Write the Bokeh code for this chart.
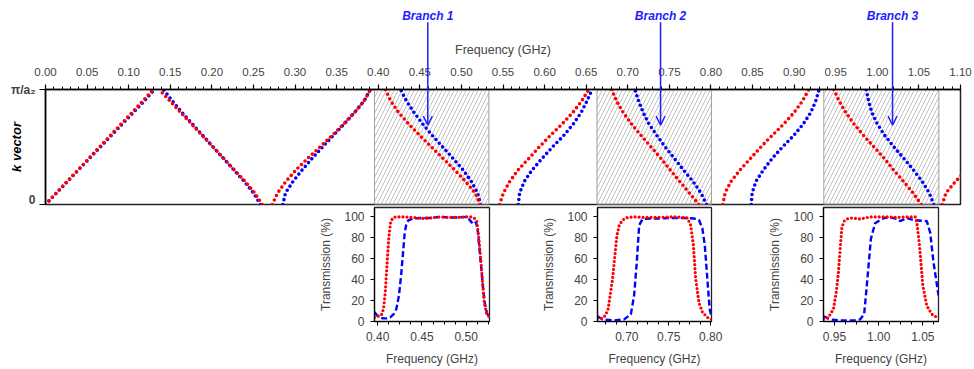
from bokeh.plotting import figure
from bokeh.models import (Range1d, SingleIntervalTicker, FixedTicker, NumeralTickFormatter,
                          Label, Arrow, OpenHead, Spacer)
from bokeh.layouts import column, row
from bokeh.embed import file_html
from bokeh.resources import INLINE

# ---------------- data ----------------
k_grid = [0.0, 0.1, 0.2, 0.3, 0.4, 0.5, 0.6, 0.7, 0.8, 0.9, 1.0]

band1_red = [0.0, 0.013, 0.026, 0.039, 0.052, 0.065, 0.078, 0.091, 0.104, 0.117, 0.1295]
band1_blue = [0.0, 0.0132, 0.0264, 0.0396, 0.0528, 0.066, 0.0792, 0.0924, 0.1056, 0.1188, 0.131]
band2_red = [0.2605, 0.2515, 0.2400, 0.2270, 0.2143, 0.2014, 0.1885, 0.1756, 0.1625, 0.1496, 0.1367]
band2_blue = [0.2585, 0.2500, 0.2390, 0.2265, 0.2140, 0.2015, 0.1890, 0.1765, 0.1640, 0.1525, 0.1420]
band3_red = [0.2725, 0.2790, 0.2890, 0.3010, 0.3150, 0.3300, 0.3445, 0.3585, 0.3715, 0.3830, 0.3907]
band3_blue = [0.2853, 0.2885, 0.2975, 0.3085, 0.3205, 0.3330, 0.3460, 0.3590, 0.3715, 0.3830, 0.3907]
band4_red = [0.5225, 0.5165, 0.5050, 0.4920, 0.4780, 0.4640, 0.4500, 0.4365, 0.4245, 0.4150, 0.4087]
band4_blue = [0.5230, 0.5195, 0.5120, 0.5020, 0.4900, 0.4775, 0.4650, 0.4535, 0.4430, 0.4340, 0.4268]
band5_red = [0.5458, 0.5505, 0.5580, 0.5680, 0.5810, 0.5935, 0.6070, 0.6210, 0.6340, 0.6445, 0.6532]
band5_blue = [0.5683, 0.5700, 0.5755, 0.5850, 0.5970, 0.6095, 0.6230, 0.6345, 0.6440, 0.6510, 0.6572]
band6_red = [0.7855, 0.7740, 0.7625, 0.7510, 0.7400, 0.7280, 0.7160, 0.7045, 0.6945, 0.6865, 0.6805]
band6_blue = [0.7947, 0.7880, 0.7785, 0.7670, 0.7560, 0.7450, 0.7350, 0.7255, 0.7185, 0.7130, 0.7085]
band7_red = [0.8143, 0.8170, 0.8240, 0.8350, 0.8475, 0.8600, 0.8735, 0.8875, 0.9000, 0.9100, 0.9177]
band7_blue = [0.8484, 0.8495, 0.8540, 0.8630, 0.8735, 0.8860, 0.8995, 0.9110, 0.9200, 0.9260, 0.9300]
band8_red = [1.0528, 1.0430, 1.0315, 1.0195, 1.0085, 0.9960, 0.9835, 0.9720, 0.9620, 0.9540, 0.9478]
band8_blue = [1.0679, 1.0625, 1.0540, 1.0435, 1.0320, 1.0200, 1.0090, 1.0000, 0.9935, 0.9895, 0.9866]
k_band9 = [0.0, 0.1, 0.2, 0.3]
band9_red = [1.0780, 1.0825, 1.0940, 1.1075]

gap_left = [0.3955, 0.6630, 0.9357]
gap_right = [0.5330, 0.8007, 1.0740]

branch_freq = [0.4596, 0.7394, 1.0183]
branch_names = ["Branch 1", "Branch 2", "Branch 3"]

y_tick_labels = {0: "0", 1: "π/a₂"}

# transmission spectra (%)
t1_red_f = [0.3963, 0.4005, 0.4040, 0.4065, 0.4085, 0.4105, 0.4125, 0.4145, 0.4170, 0.4200, 0.4300, 0.4400,
            0.4500, 0.4600, 0.4700, 0.4800, 0.4900, 0.5000, 0.5050, 0.5090, 0.5120, 0.5143, 0.5165, 0.5185,
            0.5205, 0.5230, 0.5264]
t1_red_t = [4, 5, 6, 12, 28, 55, 80, 95, 99, 100, 100, 99.5, 98.5, 99, 100, 99.5, 99.5, 100, 100, 99, 96,
            80, 60, 38, 18, 8, 4]
t1_blue_f = [0.3963, 0.3990, 0.4020, 0.4060, 0.4100, 0.4140, 0.4180, 0.4210, 0.4240, 0.4265, 0.4285, 0.4305,
             0.4325, 0.4350, 0.4400, 0.4500, 0.4600, 0.4700, 0.4800, 0.4900, 0.5000, 0.5030, 0.5060, 0.5085,
             0.5110, 0.5130, 0.5150, 0.5170, 0.5190, 0.5210, 0.5235, 0.5264]
t1_blue_t = [9, 6, 4, 3, 3, 4, 7, 12, 25, 45, 65, 85, 94, 97, 98.5, 99, 99, 100, 99.5, 99.5, 100, 98, 95,
             93, 95, 88, 70, 52, 33, 18, 8, 3]

t2_red_f = [0.665, 0.671, 0.6745, 0.6777, 0.683, 0.6881, 0.6909, 0.6949, 0.7008, 0.71, 0.72, 0.73, 0.74,
            0.75, 0.76, 0.7722, 0.7762, 0.7794, 0.7821, 0.7861, 0.7901, 0.796, 0.801]
t2_red_t = [3, 3, 6, 12, 41, 82, 92, 97, 99.5, 100, 99.5, 99.5, 99.5, 100, 100, 99, 92, 73, 41, 18, 9, 4, 2]
t2_blue_f = [0.665, 0.671, 0.6849, 0.6968, 0.7048, 0.7087, 0.7119, 0.7147, 0.7187, 0.73, 0.74, 0.75, 0.76,
             0.77, 0.7801, 0.7861, 0.7901, 0.793, 0.796, 0.7988, 0.801]
t2_blue_t = [5, 2, 1, 2, 7, 25, 57, 92, 98, 98.5, 98.5, 99, 99, 99, 98.5, 97, 89, 73, 41, 12, 4]

t3_red_f = [0.9376, 0.9432, 0.9489, 0.9520, 0.9545, 0.9565, 0.9584, 0.9610, 0.9640, 0.9697, 0.9790, 0.9904,
            1.0000, 1.0100, 1.0200, 1.0300, 1.0350, 1.0413, 1.0432, 1.0462, 1.0500, 1.0545, 1.0602, 1.0658]
t3_red_t = [2, 4, 12, 28, 47, 70, 90, 96, 98, 99, 98, 100, 100, 100, 99.5, 100, 100, 100, 95, 73, 34, 15, 7, 4]
t3_blue_f = [0.9376, 0.9451, 0.9564, 0.9715, 0.9790, 0.9836, 0.9873, 0.9912, 0.9960, 1.0036, 1.0111, 1.0206,
             1.0243, 1.0319, 1.0394, 1.0545, 1.0583, 1.0620, 1.0677]
t3_blue_t = [5, 2, 1, 1, 2, 7, 41, 79, 94, 98, 100, 98, 96, 99, 97, 96, 85, 57, 25]

inset_x_ranges = [(0.3963, 0.5264), (0.6650, 0.8010), (0.9376, 1.0677)]

RED = "#ff0000"
BLUE = "#0000ff"
ABLUE = "#1e1eff"
FONT = "Liberation Sans"

# ---------------- geometry ----------------
W, H_TOP = 974, 206
FL, FR, FT, FB = 45, 14, 89, 2          # main frame borders (px)
X0, X1, Y0, Y1 = 0.0, 1.10, 0.0, 1.0

# ---------------- main dispersion plot ----------------
p = figure(width=W, height=H_TOP, x_range=Range1d(X0, X1), y_range=Range1d(Y0, Y1),
           x_axis_location="above", output_backend="svg", toolbar_location=None,
           min_border_left=FL, min_border_right=FR, min_border_top=FT, min_border_bottom=FB)
p.xgrid.visible = False
p.ygrid.visible = False
p.outline_line_color = "#222222"
p.outline_line_width = 1.5

xa = p.xaxis[0]
xa.ticker = SingleIntervalTicker(interval=0.05, num_minor_ticks=5)
xa.formatter = NumeralTickFormatter(format="0.00")
xa.axis_label = "Frequency (GHz)"
xa.axis_label_text_font = FONT
xa.axis_label_text_font_size = "12.5px"
xa.axis_label_text_font_style = "normal"
xa.axis_label_standoff = 8
xa.major_label_text_font = FONT
xa.major_label_text_font_size = "11.5px"
xa.major_label_standoff = 9
xa.major_tick_in = 0
xa.major_tick_out = 5
xa.minor_tick_in = 0
xa.minor_tick_out = 3
xa.axis_line_width = 1.5
xa.major_tick_line_width = 1.2
xa.minor_tick_line_width = 1

ya = p.yaxis[0]
ya.ticker = FixedTicker(ticks=[0, 1])
ya.major_label_overrides = y_tick_labels
ya.major_label_text_font = FONT
ya.major_label_text_font_size = "12px"
ya.major_label_text_font_style = "bold"
ya.major_label_standoff = 4
ya.major_tick_in = 0
ya.major_tick_out = 6
ya.minor_tick_out = 0
ya.axis_line_width = 1.5
ya.axis_label = "k vector"
ya.axis_label_text_font = FONT
ya.axis_label_text_font_size = "13px"
ya.axis_label_text_font_style = "bold italic"
ya.axis_label_text_color = "black"
ya.axis_label_standoff = -16

# band gaps (hatched)
p.quad(left=gap_left, right=gap_right, bottom=0, top=1, fill_color=None,
       line_color="#a0a0a0", line_width=1, hatch_pattern="/", hatch_color="#999999",
       hatch_scale=8, hatch_weight=0.6)

bands_blue = [band1_blue, band2_blue, band3_blue, band4_blue, band5_blue, band6_blue, band7_blue, band8_blue]
bands_red = [band1_red, band2_red, band3_red, band4_red, band5_red, band6_red, band7_red, band8_red]
for b in bands_blue:
    p.line(x=b, y=k_grid, line_color=BLUE, line_width=3.6, line_dash="0 5", line_cap="round")
for b in bands_red:
    p.line(x=b, y=k_grid, line_color=RED, line_width=3.6, line_dash="0 5", line_cap="round")
p.line(x=band9_red, y=k_band9, line_color=RED, line_width=3.6, line_dash="0 5", line_cap="round")

# ---------------- transparent overlay for the branch markers (frame aligned with p) ----------------
FH = H_TOP - FT - FB
sy = (Y1 - Y0) / FH
ov = figure(width=W, height=H_TOP,
            x_range=Range1d(X0, X1),
            y_range=Range1d(Y0 - FB * sy, Y1 + FT * sy),
            x_axis_location=None, y_axis_location=None,
            output_backend="svg", toolbar_location=None, min_border=0,
            margin=(-H_TOP, 0, 0, 0))
ov.grid.visible = False
ov.outline_line_color = None
ov.background_fill_color = None
ov.border_fill_color = None

for bf, name in zip(branch_freq, branch_names):
    ov.add_layout(Arrow(x_start=bf, y_start=1.585, x_end=bf, y_end=0.69,
                        line_color=ABLUE, line_width=1.5,
                        end=OpenHead(size=9, line_color=ABLUE, line_width=1.4)))
    ov.add_layout(Label(x=bf, y=1.64, text=name, text_align="center", text_baseline="middle",
                        text_font=FONT, text_font_size="12px", text_font_style="bold italic",
                        text_color=ABLUE))


# ---------------- transmission insets ----------------
IL, IR = 58, 12


def make_inset(xr, fr, tr, fb, tb, frame_w):
    f = figure(width=IL + frame_w + IR, height=163, x_range=Range1d(*xr), y_range=Range1d(0, 109),
               output_backend="svg", toolbar_location=None,
               min_border_left=IL, min_border_right=IR, min_border_top=1, min_border_bottom=48)
    f.xgrid.visible = False
    f.ygrid.visible = False
    f.outline_line_color = "#222222"
    f.outline_line_width = 1.3
    ax = f.xaxis[0]
    ax.ticker = SingleIntervalTicker(interval=0.05, num_minor_ticks=4)
    ax.formatter = NumeralTickFormatter(format="0.00")
    ax.axis_label = "Frequency (GHz)"
    ay = f.yaxis[0]
    ay.ticker = SingleIntervalTicker(interval=20, num_minor_ticks=0)
    ay.axis_label = "Transmission (%)"
    for a in (ax, ay):
        a.axis_label_text_font = FONT
        a.axis_label_text_font_size = "12px"
        a.axis_label_text_font_style = "normal"
        a.major_label_text_font = FONT
        a.major_label_text_font_size = "12px"
        a.major_tick_in = 0
        a.major_tick_out = 4
        a.minor_tick_in = 0
        a.minor_tick_out = 3
        a.axis_line_width = 1.2
    ax.major_label_standoff = 6
    ax.axis_label_standoff = 8
    ay.major_label_standoff = 6
    ay.axis_label_standoff = 8
    f.line(x=fb, y=tb, line_color=BLUE, line_width=2.4, line_dash="6 3")
    f.line(x=fr, y=tr, line_color=RED, line_width=3.2, line_dash="0 4", line_cap="round")
    return f


i1 = make_inset(inset_x_ranges[0], t1_red_f, t1_red_t, t1_blue_f, t1_blue_t, 115)
i2 = make_inset(inset_x_ranges[1], t2_red_f, t2_red_t, t2_blue_f, t2_blue_t, 114)
i3 = make_inset(inset_x_ranges[2], t3_red_f, t3_red_t, t3_blue_f, t3_blue_t, 115)

bottom = row(Spacer(width=316, height=163), i1, Spacer(width=38, height=163), i2,
             Spacer(width=42, height=163), i3)
layout = column(p, ov, bottom)

open("out.html", "w").write(file_html(layout, INLINE))
